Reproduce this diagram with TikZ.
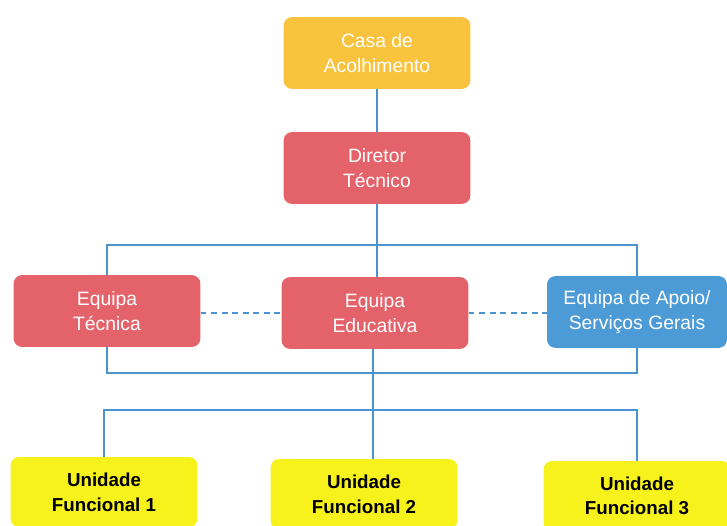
\documentclass[tikz,border=0pt]{standalone}
\usepackage{fontspec}
\setmainfont{Liberation Sans}
\usetikzlibrary{calc,positioning}
\definecolor{casaOrange} {HTML}{F9C33D}
\definecolor{teamRed}    {HTML}{E4636B}
\definecolor{apoioBlue}  {HTML}{4D9BD6}
\definecolor{unitYellow} {HTML}{F8F21C}
\definecolor{linkBlue}   {HTML}{4B93D1}
\tikzset{
  font=\fontsize{16.5}{21}\selectfont,
  link/.style={draw=linkBlue,line width=1.4pt},
  dashlink/.style={draw=linkBlue,line width=1.4pt,dashed,dash pattern=on 5pt off 4pt},
  card/.style={rectangle,rounded corners=7pt,draw=none,text=white,
    minimum width=5.6cm,minimum height=2.15cm,align=center},
  casa/.style={card,fill=casaOrange},
  team/.style={card,fill=teamRed},
  apoio/.style={card,fill=apoioBlue,minimum width=5.4cm},
  unit/.style={card,fill=unitYellow,text=black,font=\fontsize{16}{21}\selectfont\bfseries,
    minimum height=2.1cm},
}

\begin{document}
\begin{tikzpicture}[x=0.03cm,y=-0.03cm]

\useasboundingbox (0,0) rectangle (727,525);

\node[casa] (casa) at (377,53) {Casa de\\Acolhimento};

\node[team] (diretor) at (377,168) {Diretor\\Técnico};

\node[team]  (tecnica)    at (107,311) {Equipa\\Técnica};
\node[team]  (educativa)  at (375,313) {Equipa\\Educativa};
\node[apoio] (apoiogeral) at (637,312) {Equipa de Apoio/\\Serviços Gerais};

\node[unit] (uf1) at (104,492) {Unidade\\Funcional 1};
\node[unit] (uf2) at (364,494) {Unidade\\Funcional 2};
\node[unit] (uf3) at (637,496) {Unidade\\Funcional 3};

% top of the chart
\draw[link] (casa.south) -- (diretor.north);
\draw[link] (diretor.south) -- (diretor.south |- educativa.north);

% teams bar above and loop below
\coordinate (topbar) at (377,245);
\coordinate (lowloop) at (373,373);
\draw[link] (tecnica.north) |- (topbar) -| (apoiogeral.north);
\draw[link] (tecnica.south) |- (lowloop) -| (apoiogeral.south);

\draw[dashlink] (tecnica.east |- educativa.east) -- (educativa.west);
\draw[dashlink] (educativa.east) -- (apoiogeral.west |- educativa.east);

% functional units
\coordinate (unitbar) at (373,410);
\draw[link] (unitbar |- educativa.south) -- (unitbar);
\draw[link] (uf1.north) |- (unitbar) -| (uf3.north);
\draw[link] (unitbar) -- (unitbar |- uf2.north);

\end{tikzpicture}
\end{document}
